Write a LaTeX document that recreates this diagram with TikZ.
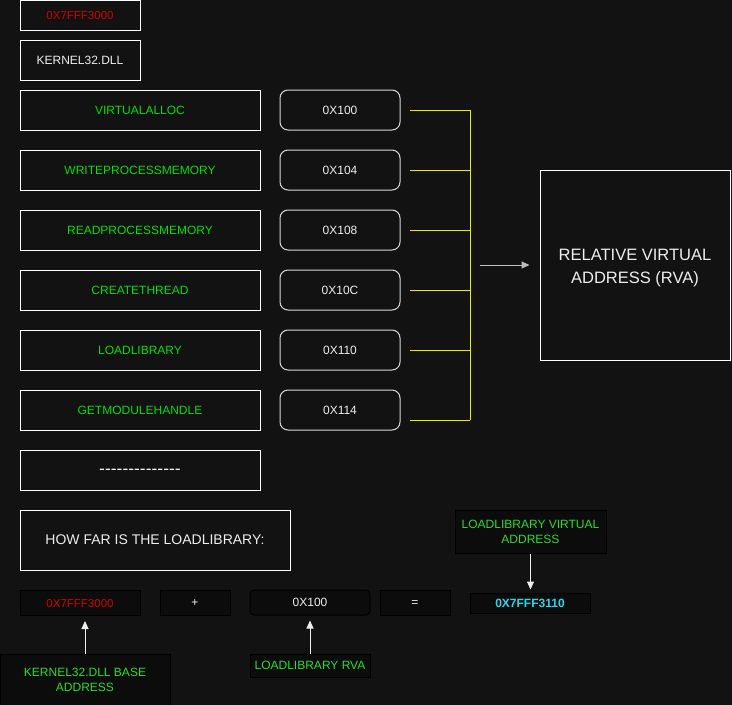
\documentclass[tikz,border=0pt]{standalone}
\usepackage{fontspec}
\setmainfont{Liberation Sans}
\usetikzlibrary{arrows.meta}
\definecolor{bgdark}{RGB}{18,18,18}
\definecolor{boxdark}{RGB}{12,12,12}
\definecolor{fngreen}{RGB}{0,222,0}
\definecolor{lblgreen}{RGB}{40,222,40}
\definecolor{addrred}{RGB}{210,0,0}
\definecolor{vacyan}{RGB}{40,214,232}
\definecolor{brkyellow}{RGB}{235,235,0}
\definecolor{softwhite}{RGB}{238,238,238}
\tikzset{
  cell/.style={draw=white, line width=1pt, fill=bgdark, text=softwhite,
    font=\fontsize{12}{15}\selectfont, inner sep=0pt, align=center,
    text height=0.716em+1.5pt, text depth=0pt},
  fn/.style={cell, minimum width=240pt, minimum height=40pt, text=fngreen},
  rel/.style={cell, draw=white!85!black, rounded corners=8pt,
    minimum width=120pt, minimum height=40pt},
  term/.style={draw=black, line width=1pt, fill=boxdark, text=softwhite,
    font=\fontsize{12}{15}\selectfont, inner sep=0pt, align=center,
    minimum height=25pt, text height=0.716em+1.5pt, text depth=0pt},
  note/.style={term, text=lblgreen},
  twoline/.style={text height=24.6pt, text depth=0pt},
  wire/.style={brkyellow, line width=1pt},
  pointer/.style={softwhite, line width=1pt, -{Triangle[length=8pt,width=7pt]}}
}
\begin{document}
\begin{tikzpicture}[x=1pt,y=-1pt]
  \fill[bgdark] (0,0) rectangle (732,705);
  \useasboundingbox (0,0) rectangle (732,705);

  % header
  \node[cell, minimum width=120pt, minimum height=30pt, text=addrred,
    font=\fontsize{11.5}{14}\selectfont] (imgbase) at (80,15) {0X7FFF3000};
  \node[cell, minimum width=120pt, minimum height=40pt] (dll) at (80,60) {KERNEL32.DLL};

  % export table
  \node[fn] (f1) at (140,110) {VIRTUALALLOC};
  \node[fn] (f2) at (140,170) {WRITEPROCESSMEMORY};
  \node[fn] (f3) at (140,230) {READPROCESSMEMORY};
  \node[fn] (f4) at (140,290) {CREATETHREAD};
  \node[fn] (f5) at (140,350) {LOADLIBRARY};
  \node[fn] (f6) at (140,410) {GETMODULEHANDLE};
  \node[fn, text=softwhite, font=\fontsize{17.5}{20}\selectfont] (f7) at (140,470)
    {-{}-{}-{}-{}-{}-{}-{}-{}-{}-{}-{}-{}-{}-};

  \node[rel] (r1) at (340,110) {0X100};
  \node[rel] (r2) at (340,170) {0X104};
  \node[rel] (r3) at (340,230) {0X108};
  \node[rel] (r4) at (340,290) {0X10C};
  \node[rel] (r5) at (340,350) {0X110};
  \node[rel] (r6) at (340,410) {0X114};

  \node[cell, text height=37pt, text depth=0pt, minimum width=190pt,
    minimum height=190pt, font=\fontsize{16.5}{23}\selectfont] (rva) at (635,265)
    {RELATIVE VIRTUAL\\ADDRESS (RVA)};

  % bracket
  \coordinate (b1) at (410,110);
  \coordinate (b2) at (410,170);
  \coordinate (b3) at (410,230);
  \coordinate (b4) at (410,290);
  \coordinate (b5) at (410,350);
  \coordinate (b6) at (410,420);
  \coordinate (btop) at (470,110);
  \coordinate (bbot) at (470,420);
  \coordinate (bout) at (480,265);

  \begin{scope}[wire]
    \draw (b1) -- (btop);
    \draw (b2) -- (b2 -| btop);
    \draw (b3) -- (b3 -| btop);
    \draw (b4) -- (b4 -| btop);
    \draw (b5) -- (b5 -| btop);
    \draw (b6) -- (bbot);
    \draw (btop) -- (bbot);
  \end{scope}
  \draw[pointer, softwhite!80!black] (bout) -- ([xshift=-10pt]rva.west);

  % sum
  \node[cell, minimum width=270pt, minimum height=60pt,
    font=\fontsize{14}{17}\selectfont] (ask) at (155,540) {HOW FAR IS THE LOADLIBRARY:};

  \node[term, minimum width=120pt, text=addrred, font=\fontsize{11.5}{14}\selectfont]
    (base) at (80,603) {0X7FFF3000};
  \node[term, minimum width=70pt] (plus) at (195,602.5) {+};
  \node[term, minimum width=120pt, rounded corners=4pt] (off) at (310,602.5) {0X100};
  \node[term, minimum width=70pt] (eq) at (415,602.5) {=};
  \node[term, minimum width=120pt, minimum height=20pt, text=vacyan,
    font=\bfseries\fontsize{12}{15}\selectfont] (va) at (530,603) {0X7FFF3110};

  \node[note, twoline, minimum width=170pt, minimum height=51pt] (baselbl) at (85,679.5)
    {KERNEL32.DLL BASE\\ADDRESS};
  \node[note, minimum width=120pt, minimum height=23pt] (offlbl) at (310,665.5)
    {LOADLIBRARY RVA};
  \node[note, twoline, minimum width=151pt, minimum height=43pt] (valbl) at (530.5,531.5)
    {LOADLIBRARY VIRTUAL\\ADDRESS};

  \begin{scope}[pointer]
    \draw (baselbl.north) -- ([yshift=-5pt]baselbl.north |- base.south);
    \draw (offlbl.north) -- ([yshift=-5pt]offlbl.north |- off.south);
    \draw (valbl.south) -- ([yshift=3pt]valbl.south |- va.north);
  \end{scope}
\end{tikzpicture}
\end{document}
